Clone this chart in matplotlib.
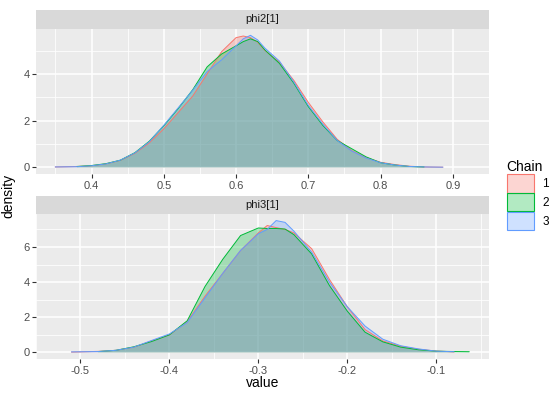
import numpy as np
import matplotlib.pyplot as plt
from matplotlib.patches import Patch

plt.rcParams['font.family'] = ['Liberation Sans', 'DejaVu Sans']

chains = ['1', '2', '3']
colors = ['#F8766D', '#00BA38', '#619CFF']

# phi2[1] densities
x_phi2 = [0.35, 0.38, 0.40, 0.42, 0.44, 0.46, 0.48, 0.50, 0.52, 0.54, 0.56, 0.58,
          0.60, 0.61, 0.62, 0.63, 0.64, 0.66, 0.68, 0.70, 0.72, 0.74, 0.76, 0.78,
          0.80, 0.82, 0.84, 0.86, 0.886]
phi2_c1 = [0.02, 0.04, 0.07, 0.15, 0.30, 0.60, 1.05, 1.65, 2.35, 3.05, 4.00, 4.95,
           5.55, 5.62, 5.55, 5.35, 5.00, 4.50, 3.72, 2.78, 1.95, 1.20, 0.72, 0.42,
           0.22, 0.12, 0.05, 0.02, 0.01]
phi2_c2 = [np.nan, 0.04, 0.08, 0.16, 0.31, 0.63, 1.12, 1.78, 2.52, 3.32, 4.30, 4.85,
           5.20, 5.38, 5.50, 5.38, 5.02, 4.45, 3.60, 2.60, 1.80, 1.15, 0.80, 0.45,
           0.20, 0.10, 0.04, 0.02, np.nan]
phi2_c3 = [0.02, 0.03, 0.07, 0.15, 0.31, 0.62, 1.10, 1.80, 2.55, 3.30, 4.10, 4.60,
           5.20, 5.50, 5.65, 5.45, 5.10, 4.55, 3.65, 2.65, 1.85, 1.15, 0.70, 0.40,
           0.20, 0.10, 0.04, 0.02, 0.01]

# phi3[1] densities
x_phi3 = [-0.51, -0.48, -0.46, -0.44, -0.42, -0.40, -0.38, -0.36, -0.34, -0.32,
          -0.30, -0.29, -0.28, -0.27, -0.26, -0.24, -0.22, -0.20, -0.18, -0.16,
          -0.14, -0.12, -0.10, -0.08, -0.063]
phi3_c1 = [0.02, 0.06, 0.12, 0.30, 0.65, 1.00, 1.75, 3.20, 4.50, 5.80,
           6.80, 7.22, 7.10, 7.00, 6.80, 5.90, 4.15, 2.60, 1.30, 0.65,
           0.35, 0.18, 0.08, 0.03, np.nan]
phi3_c2 = [np.nan, 0.05, 0.12, 0.32, 0.62, 1.00, 1.80, 3.75, 5.30, 6.65,
           7.08, 7.05, 7.05, 7.02, 6.70, 5.60, 3.80, 2.35, 1.15, 0.60,
           0.30, 0.15, 0.07, 0.05, 0.04]
phi3_c3 = [0.03, 0.05, 0.12, 0.30, 0.68, 1.05, 1.70, 3.10, 4.50, 5.80,
           6.75, 7.00, 7.50, 7.40, 6.90, 5.70, 4.00, 2.60, 1.50, 0.75,
           0.38, 0.20, 0.07, 0.04, np.nan]

panels = [
    ('phi2[1]', x_phi2, [phi2_c1, phi2_c2, phi2_c3],
     [0.4, 0.5, 0.6, 0.7, 0.8, 0.9], ['0.4', '0.5', '0.6', '0.7', '0.8', '0.9'],
     [0, 2, 4]),
    ('phi3[1]', x_phi3, [phi3_c1, phi3_c2, phi3_c3],
     [-0.5, -0.4, -0.3, -0.2, -0.1], ['-0.5', '-0.4', '-0.3', '-0.2', '-0.1'],
     [0, 2, 4, 6]),
]

fig = plt.figure(figsize=(5.5, 3.96), dpi=100)
W, H = 550.0, 396.0
left, right = 36, 489
boxes = [(10, 28.7, 174), (196, 214, 359)]  # strip top, panel top, panel bottom (px)

for (title, xs, ys, xt, xtl, yt), (st, pt, pb) in zip(panels, boxes):
    ax = fig.add_axes([left / W, 1 - pb / H, (right - left) / W, (pb - pt) / H])
    ax.set_facecolor('#EBEBEB')
    x = np.array(xs)
    ymax = 0
    for y, c in zip(ys, colors):
        y = np.array(y, dtype=float)
        m = ~np.isnan(y)
        ax.fill_between(x[m], 0, y[m], facecolor=c, alpha=0.3, edgecolor='none', zorder=2)
        ax.plot(x[m], y[m], color=c, lw=0.7, zorder=3)
        ymax = max(ymax, np.nanmax(y))
    xmin, xmax = np.nanmin(x), np.nanmax(x)
    dx = xmax - xmin
    ax.set_xlim(xmin - 0.05 * dx, xmax + 0.05 * dx)
    ax.set_ylim(-0.05 * ymax, 1.05 * ymax)
    ax.set_xticks(xt)
    ax.set_xticklabels(xtl)
    ax.set_yticks(yt)
    step = xt[1] - xt[0]
    ax.set_xticks([v - step / 2 for v in xt] + [xt[-1] + step / 2], minor=True)
    ax.set_yticks([v + 1 for v in yt], minor=True)
    ax.grid(which='major', color='white', lw=1.1, zorder=0)
    ax.grid(which='minor', color='white', lw=0.55, zorder=0)
    ax.set_axisbelow(True)
    for s in ax.spines.values():
        s.set_visible(False)
    ax.tick_params(which='major', length=2.75, width=0.8, color='#333333',
                   labelsize=8, labelcolor='#4D4D4D', pad=2)
    ax.tick_params(which='minor', length=0)
    # facet strip
    sax = fig.add_axes([left / W, 1 - pt / H, (right - left) / W, (pt - st) / H])
    sax.set_facecolor('#D9D9D9')
    sax.set_xticks([])
    sax.set_yticks([])
    for s in sax.spines.values():
        s.set_visible(False)
    sax.text(0.5, 0.5, title, ha='center', va='center', fontsize=8, color='#1A1A1A',
             transform=sax.transAxes)

fig.text((left + right) / 2 / W, 1 - 383 / H, 'value', ha='center', va='center',
         fontsize=10, color='black')
fig.text(8 / W, 1 - 196 / H, 'density', ha='center', va='center', rotation=90,
         fontsize=10, color='black')

handles = [Patch(facecolor=c + '4D', edgecolor=c, lw=0.8) for c in colors]
leg = fig.legend(handles, chains, title='Chain', loc='center left',
                 bbox_to_anchor=(502 / W, 1 - 195 / H), frameon=False,
                 fontsize=8.5, title_fontsize=10, handlelength=2.3, handleheight=2.0,
                 labelspacing=0.05, handletextpad=0.7, borderaxespad=0)
leg._legend_box.align = 'left'

fig.savefig('out.png', dpi=100)
